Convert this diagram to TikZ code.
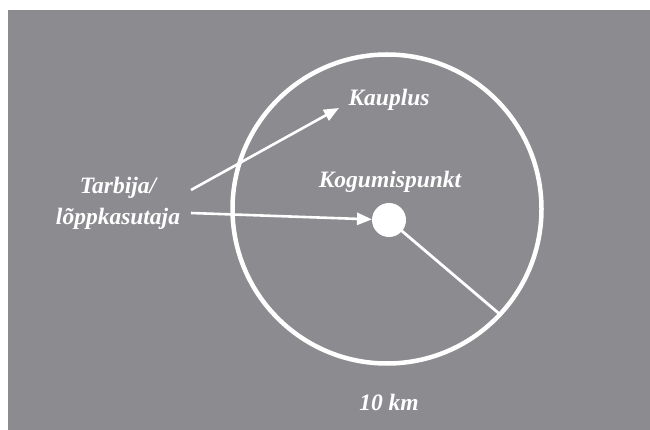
\documentclass[tikz,border=0pt]{standalone}
\usepackage{fontspec}
\setmainfont{Liberation Serif}
\usetikzlibrary{arrows.meta}
\definecolor{bg}{RGB}{140,139,144}
\tikzset{
  lbl/.style={text=white, font=\fontsize{23.5}{31}\selectfont\bfseries\itshape, inner sep=0pt, align=center},
  arr/.style={draw=white, line width=2.6pt, -{Triangle[length=15pt,width=12pt]}},
}
\begin{document}
\begin{tikzpicture}[x=1pt,y=-1pt]
\useasboundingbox (0,0) rectangle (650,430);
\fill[bg] (8,10) rectangle (650,430);
\node[circle, draw=white, line width=4.5pt, minimum size=309pt, inner sep=0pt, outer sep=0pt] (ring) at (387,209) {};
\node[circle, fill=white, minimum size=34pt, inner sep=0pt, outer sep=0pt] (dot) at (389,220) {};
\node[lbl] (kauplus) at (389,100) {Kauplus};
\node[lbl] (kogu) at (390,182) {Kogumispunkt};
\node[lbl] (tarbija) at (118,203) {Tarbija/\\lõppkasutaja};
\node[lbl] (km) at (389,402) {10 km};
\coordinate (a1s) at (191,190);
\coordinate (a1e) at (339,108);
\coordinate (a2s) at (191,213);
\draw[arr] (a1s) -- (a1e);
\draw[arr] (a2s) -- (dot);
\draw[white, line width=2.8pt] (dot.center) -- (ring.-43.5);
\end{tikzpicture}
\end{document}
